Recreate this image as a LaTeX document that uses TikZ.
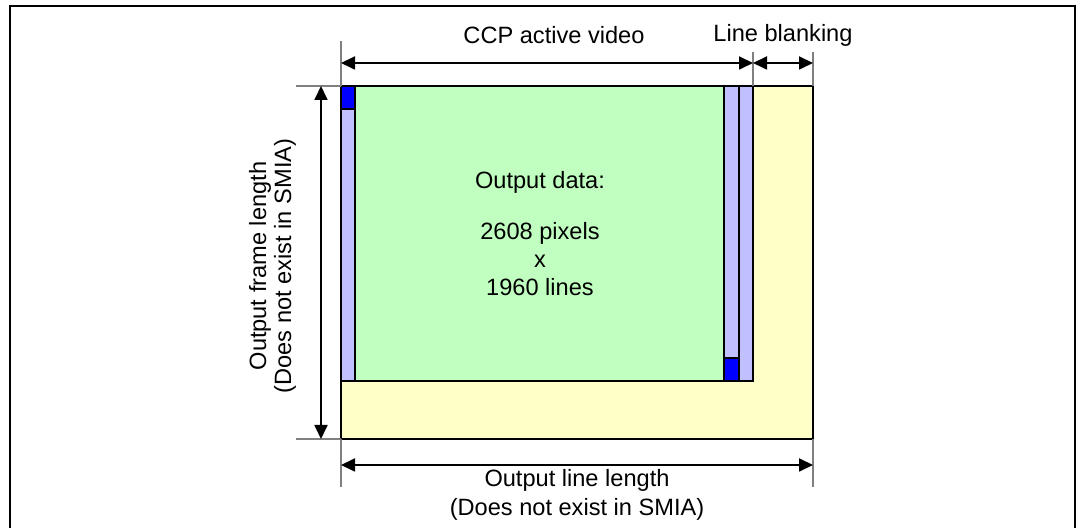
\documentclass[tikz,border=0pt]{standalone}
\usepackage{fontspec}
\setmainfont{Liberation Sans}
\usetikzlibrary{arrows.meta}
\definecolor{vgreen}{HTML}{C0FFC0}
\definecolor{vpurple}{HTML}{C0C0FF}
\definecolor{vblue}{HTML}{0000FF}
\definecolor{vyellow}{HTML}{FFFFC8}
\definecolor{vgray}{HTML}{808080}
\tikzset{
  box/.style={draw=black,line width=1pt},
  extline/.style={draw=vgray,line width=0.8pt},
  dimarrow/.style={draw=black,line width=0.9pt,{Triangle[length=7pt,width=6.5pt]}-{Triangle[length=7pt,width=6.5pt]}},
  lbl/.style={inner sep=0pt,font=\fontsize{11.8}{13}\selectfont},
}
\begin{document}
\begin{tikzpicture}[x=0.5pt,y=-0.5pt]
\useasboundingbox (0,0) rectangle (1084,528);
% outer frame
\draw[line width=1pt] (10,530) -- (10,6) -- (1075,6) -- (1075,530);
% yellow blanking area
\path[box,fill=vyellow] (341,86) rectangle (813,439);
% active area
\path[box,fill=vgreen] (355,86) rectangle (724,381);
\path[box,fill=vpurple] (341,86) rectangle (355,381);
\path[box,fill=vblue] (341,86) rectangle (355,109);
\path[box,fill=vpurple] (724,86) rectangle (739,381);
\path[box,fill=vpurple] (739,86) rectangle (753,381);
\path[box,fill=vblue] (724,358) rectangle (739,381);
% extension lines
\draw[extline] (341,41) -- (341,86);
\draw[extline] (753,52) -- (753,86);
\draw[extline] (813,52) -- (813,86);
\draw[extline] (296,86) -- (341,86);
\draw[extline] (296,439) -- (341,439);
\draw[extline] (341,439) -- (341,487);
\draw[extline] (813,439) -- (813,487);
% arrow end coordinates
\coordinate (ccpL) at (341,63);
\coordinate (ccpR) at (753,63);
\coordinate (lbR) at (813,63);
\coordinate (frT) at (321,86);
\coordinate (frB) at (321,439);
\coordinate (llL) at (341,465);
\coordinate (llR) at (813,465);
\draw[dimarrow] (ccpL) -- (ccpR);
\draw[dimarrow] (ccpR) -- (lbR);
\draw[dimarrow] (frT) -- (frB);
\draw[dimarrow] (llL) -- (llR);
% labels
\node[lbl] (ccp) at (554,35) {CCP active video};
\node[lbl] (lb) at (783,35) {Line blanking};
\node[lbl,rotate=90] (fl1) at (260,266) {Output frame length};
\node[lbl,rotate=90] (fl2) at (285,266) {(Does not exist in SMIA)};
\node[lbl] (ll1) at (577,480) {Output line length};
\node[lbl] (ll2) at (577,509) {(Does not exist in SMIA)};
\node[lbl] (od1) at (540,182) {Output data:};
\node[lbl] (od2) at (540,233) {2608 pixels};
\node[lbl] (od3) at (540,261) {x};
\node[lbl] (od4) at (540,287) {1960 lines};
\end{tikzpicture}
\end{document}
